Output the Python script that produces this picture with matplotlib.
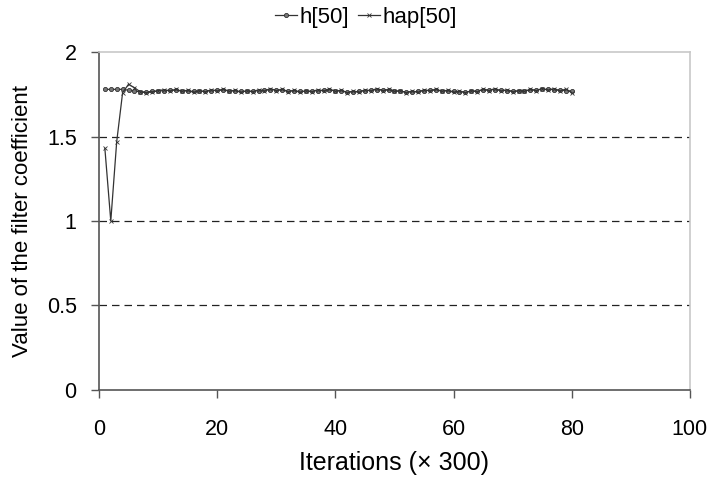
import matplotlib.pyplot as plt

plt.rcParams['font.family'] = ['Liberation Sans', 'DejaVu Sans']

iters = list(range(1, 81))
h50 = [1.78, 1.78, 1.78, 1.78,
       1.775, 1.77, 1.765, 1.765, 1.768, 1.77,
       1.772, 1.775, 1.775, 1.772, 1.77, 1.768, 1.768, 1.77, 1.772, 1.775,
       1.775, 1.772, 1.77, 1.768, 1.768, 1.77, 1.772, 1.775, 1.778, 1.778,
       1.775, 1.772, 1.77, 1.768, 1.768, 1.77, 1.772, 1.775, 1.775, 1.772,
       1.77, 1.765, 1.765, 1.768, 1.772, 1.775, 1.778, 1.778, 1.775, 1.772,
       1.768, 1.765, 1.765, 1.768, 1.772, 1.775, 1.775, 1.772, 1.77, 1.768,
       1.765, 1.765, 1.768, 1.772, 1.775, 1.778, 1.778, 1.775, 1.772, 1.77,
       1.77, 1.772, 1.775, 1.778, 1.78, 1.78, 1.778, 1.775, 1.772, 1.77]
hap50 = [1.43, 1.0, 1.47, 1.76, 1.81, 1.79, 1.765,
         1.76, 1.765, 1.772,
         1.778, 1.77, 1.78, 1.768, 1.775, 1.762, 1.772, 1.765, 1.778, 1.77,
         1.782, 1.768, 1.775, 1.762, 1.772, 1.765, 1.778, 1.77, 1.785, 1.772,
         1.78, 1.765, 1.775, 1.762, 1.772, 1.765, 1.778, 1.77, 1.782, 1.768,
         1.775, 1.76, 1.77, 1.762, 1.778, 1.77, 1.785, 1.772, 1.78, 1.768,
         1.772, 1.76, 1.77, 1.762, 1.778, 1.77, 1.782, 1.768, 1.775, 1.762,
         1.77, 1.76, 1.772, 1.765, 1.782, 1.772, 1.785, 1.77, 1.778, 1.765,
         1.772, 1.768, 1.78, 1.772, 1.785, 1.775, 1.785, 1.77, 1.782, 1.76]

fig = plt.figure(figsize=(7.12, 4.79), dpi=100)
ax = fig.add_axes([0.139, 0.186, 0.83, 0.705])

ax.plot(iters, h50, color='#333333', lw=0.9, marker='o', ms=3,
        mfc='#777777', mec='#333333', mew=0.6, label='h[50]')
ax.plot(iters, hap50, color='#333333', lw=0.9, marker='x', ms=3.5,
        mew=0.6, label='hap[50]')

ax.set_xlim(0, 100)
ax.set_ylim(0, 2)
ax.set_xticks([0, 20, 40, 60, 80, 100])
ax.set_yticks([0, 0.5, 1, 1.5, 2])
ax.set_yticklabels(['0', '0.5', '1', '1.5', '2'])
for y in [0.5, 1, 1.5]:
    ax.axhline(y, color='#222222', lw=0.9, ls=(0, (6, 4)), zorder=0)

for s in ['top', 'right']:
    ax.spines[s].set_color('#c8c8c8')
    ax.spines[s].set_linewidth(1.2)
for s in ['left', 'bottom']:
    ax.spines[s].set_color('#555555')
    ax.spines[s].set_linewidth(1.2)
ax.tick_params(axis='both', labelsize=15.5, color='#555555', length=6, width=1,
               direction='out')
ax.tick_params(axis='x', pad=15)
ax.tick_params(axis='y', pad=10)

ax.set_xlabel('Iterations (\u00d7 300)', fontsize=18, labelpad=8)
ax.set_ylabel('Value of the filter coefficient', fontsize=16, labelpad=10)

fig.legend(loc='center', bbox_to_anchor=(366 / 712, 1 - 17 / 479), ncol=2,
           frameon=False, fontsize=16, handlelength=1.0, handletextpad=0.1,
           columnspacing=0.4, borderpad=0)

fig.savefig('out.png', dpi=100)
